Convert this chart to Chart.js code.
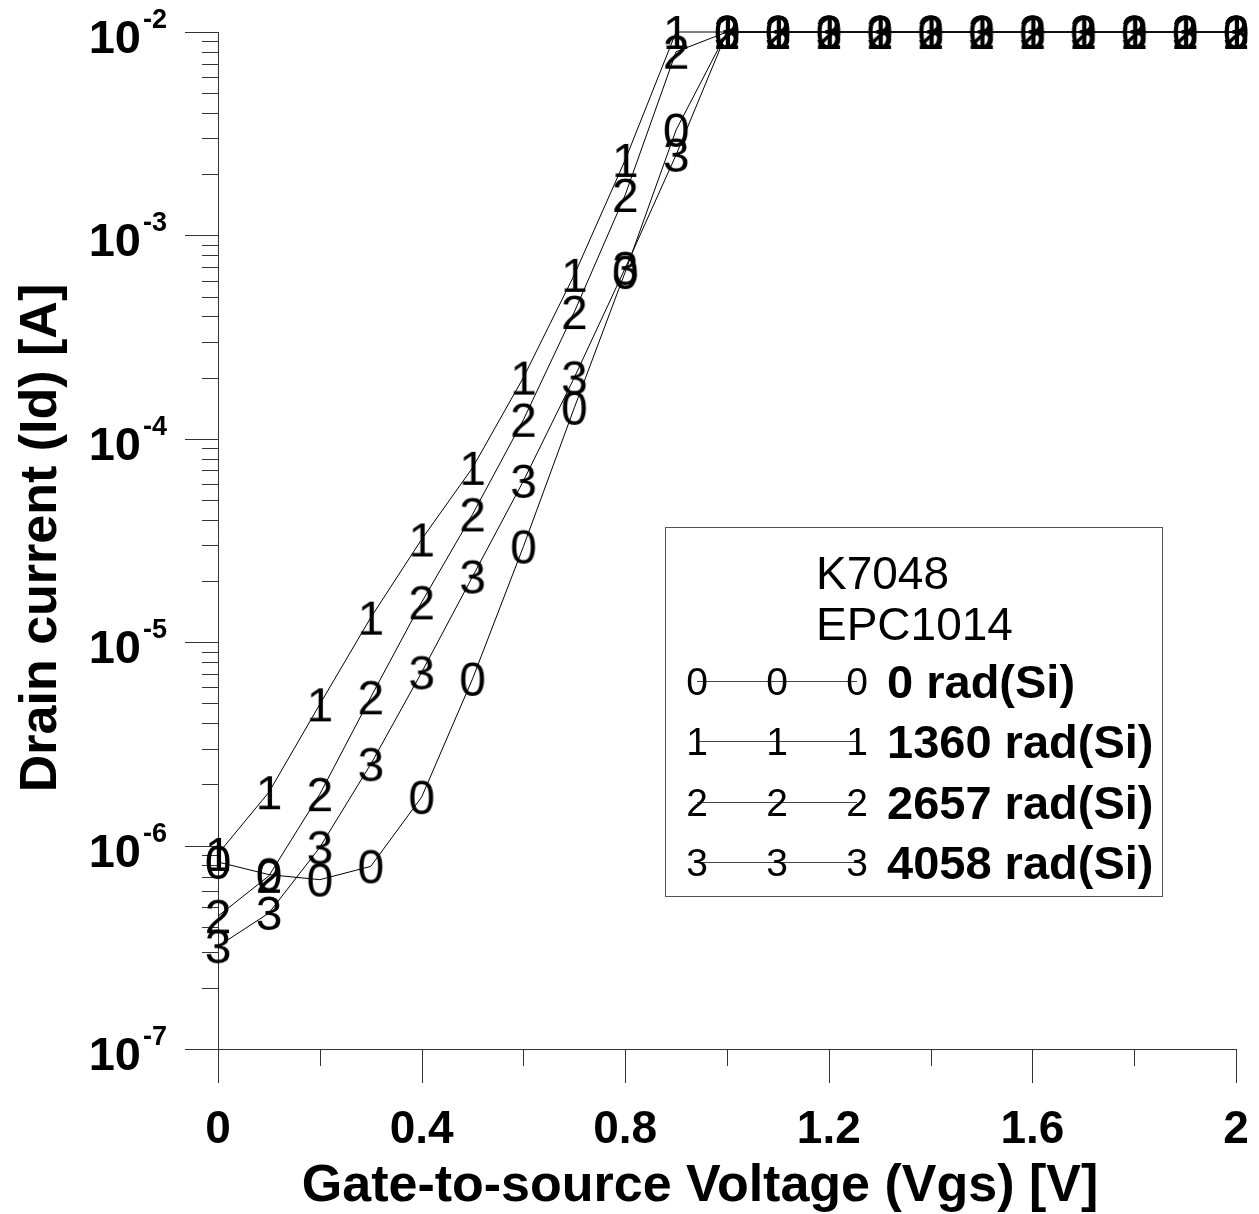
<!DOCTYPE html>
<html>
<head>
<meta charset="utf-8">
<script src="https://cdn.jsdelivr.net/npm/chart.js@4"></script>
<style>
  html, body { margin: 0; padding: 0; background: #fff; }
  canvas { display: block; }
</style>
</head>
<body>
<canvas id="chartIdVgs" width="1259" height="1214"></canvas>
<script>
// datos
const vgs = [0, 0.1, 0.2, 0.3, 0.4, 0.5, 0.6, 0.7, 0.8, 0.9, 1.0,
             1.1, 1.2, 1.3, 1.4, 1.5, 1.6, 1.7, 1.8, 1.9, 2.0];
const id0rad = [8.3e-7, 7.2e-7, 6.8e-7, 7.9e-7, 1.73e-6, 6.6e-6, 2.95e-5, 1.42e-4, 6.6e-4, 3.3e-3, 1e-2,
                1e-2, 1e-2, 1e-2, 1e-2, 1e-2, 1e-2, 1e-2, 1e-2, 1e-2, 1e-2];
const id1360rad = [9.1e-7, 1.83e-6, 4.95e-6, 1.32e-5, 3.2e-5, 7.2e-5, 2.0e-4, 6.4e-4, 2.35e-3, 1e-2, 1e-2,
                   1e-2, 1e-2, 1e-2, 1e-2, 1e-2, 1e-2, 1e-2, 1e-2, 1e-2, 1e-2];
const id2657rad = [4.5e-7, 7.1e-7, 1.79e-6, 5.36e-6, 1.57e-5, 4.25e-5, 1.24e-4, 4.2e-4, 1.58e-3, 8.0e-3, 1e-2,
                   1e-2, 1e-2, 1e-2, 1e-2, 1e-2, 1e-2, 1e-2, 1e-2, 1e-2, 1e-2];
const id4058rad = [3.2e-7, 4.66e-7, 9.8e-7, 2.51e-6, 7.1e-6, 2.1e-5, 6.2e-5, 2.0e-4, 6.9e-4, 2.49e-3, 1e-2,
                   1e-2, 1e-2, 1e-2, 1e-2, 1e-2, 1e-2, 1e-2, 1e-2, 1e-2, 1e-2];

const seriesLabels = ['0 rad(Si)', '1360 rad(Si)', '2657 rad(Si)', '4058 rad(Si)'];
const markerChars = ['0', '1', '2', '3'];
const legendTitle = ['K7048', 'EPC1014'];

const xMajorTicks = [0, 0.4, 0.8, 1.2, 1.6, 2];
const xMajorLabels = ['0', '0.4', '0.8', '1.2', '1.6', '2'];
const xMinorTicks = [0.2, 0.6, 1.0, 1.4, 1.8];
const yDecades = [-7, -6, -5, -4, -3, -2];

const xTitle = 'Gate-to-source Voltage (Vgs) [V]';
const yTitle = 'Drain current (Id) [A]';

const FONT = "'Liberation Sans', Arial, sans-serif";

// marcador: digito dibujado en un canvas
function digitMarker(ch, size) {
    const c = document.createElement('canvas');
    c.width = Math.round(size * 0.7);
    c.height = Math.round(size * 1.0);
    const g = c.getContext('2d');
    g.fillStyle = '#000';
    g.font = size + 'px ' + FONT;
    g.textAlign = 'center';
    g.textBaseline = 'alphabetic';
    g.fillText(ch, c.width / 2, c.height / 2 + size * 0.716 / 2);
    return c;
}

const seriesData = [id0rad, id1360rad, id2657rad, id4058rad];

const datasets = seriesData.map(function (vals, i) {
    return {
        label: seriesLabels[i],
        data: vgs.map(function (v, k) { return { x: v, y: vals[k] }; }),
        borderColor: '#000',
        borderWidth: 1,
        tension: 0,
        pointStyle: digitMarker(markerChars[i], 48),
        pointRadius: 10,
        clip: false
    };
});

const axesPlugin = {
    id: 'ejesManual',
    beforeDatasetsDraw(chart) {
        const ctx = chart.ctx;
        const xs = chart.scales.x, ys = chart.scales.y;
        const area = chart.chartArea;
        ctx.save();
        ctx.strokeStyle = '#333';
        ctx.lineWidth = 1;
        ctx.beginPath();
        // eje y
        ctx.moveTo(area.left + 0.5, area.top);
        ctx.lineTo(area.left + 0.5, area.bottom);
        // eje x
        ctx.moveTo(area.left, area.bottom + 0.5);
        ctx.lineTo(area.right, area.bottom + 0.5);
        // ticks x
        xMajorTicks.forEach(function (v) {
            const px = Math.round(xs.getPixelForValue(v)) + 0.5;
            ctx.moveTo(px, area.bottom);
            ctx.lineTo(px, area.bottom + 34);
        });
        xMinorTicks.forEach(function (v) {
            const px = Math.round(xs.getPixelForValue(v)) + 0.5;
            ctx.moveTo(px, area.bottom);
            ctx.lineTo(px, area.bottom + 17);
        });
        // ticks y
        yDecades.forEach(function (d) {
            const py = Math.round(ys.getPixelForValue(Math.pow(10, d))) + 0.5;
            ctx.moveTo(area.left - 33, py);
            ctx.lineTo(area.left, py);
            if (d < -2) {
                for (let m = 2; m <= 9; m++) {
                    const pm = Math.round(ys.getPixelForValue(m * Math.pow(10, d))) + 0.5;
                    ctx.moveTo(area.left - 16, pm);
                    ctx.lineTo(area.left, pm);
                }
            }
        });
        ctx.stroke();
        ctx.restore();
    },
    afterDraw(chart) {
        const ctx = chart.ctx;
        const xs = chart.scales.x, ys = chart.scales.y;
        const area = chart.chartArea;
        ctx.save();
        ctx.fillStyle = '#000';

        // etiquetas x
        ctx.font = 'bold 46px ' + FONT;
        ctx.textAlign = 'center';
        ctx.textBaseline = 'alphabetic';
        xMajorTicks.forEach(function (v, i) {
            ctx.fillText(xMajorLabels[i], xs.getPixelForValue(v), area.bottom + 94);
        });

        // etiquetas y con exponente
        yDecades.forEach(function (d) {
            const py = ys.getPixelForValue(Math.pow(10, d));
            ctx.font = 'bold 47px ' + FONT;
            ctx.textAlign = 'right';
            ctx.fillText('10', 141, py + 21);
            ctx.font = 'bold 27px ' + FONT;
            ctx.textAlign = 'left';
            ctx.fillText(String(d), 143, py - 4);
        });

        // titulos de ejes
        ctx.font = 'bold 52px ' + FONT;
        ctx.textAlign = 'center';
        ctx.fillText(xTitle, 700, 1201);
        ctx.save();
        ctx.translate(56, 538);
        ctx.rotate(-Math.PI / 2);
        ctx.fillText(yTitle, 0, 0);
        ctx.restore();

        // leyenda
        const bx = 665.5, by = 527.5, bw = 497, bh = 369;
        ctx.strokeStyle = '#555';
        ctx.lineWidth = 1;
        ctx.fillStyle = '#fff';
        ctx.fillRect(bx, by, bw, bh);
        ctx.strokeRect(bx, by, bw, bh);
        ctx.fillStyle = '#000';
        ctx.font = '46px ' + FONT;
        ctx.textAlign = 'left';
        ctx.fillText(legendTitle[0], 816, 589);
        ctx.fillText(legendTitle[1], 816, 640);

        const rowY = [681, 741, 802, 862];
        const markX = [697, 777, 857];
        seriesLabels.forEach(function (lab, i) {
            const y = rowY[i];
            ctx.strokeStyle = '#444';
            ctx.beginPath();
            ctx.moveTo(markX[0], y + 0.5);
            ctx.lineTo(markX[2], y + 0.5);
            ctx.stroke();
            ctx.font = '39px ' + FONT;
            ctx.textAlign = 'center';
            markX.forEach(function (mx) {
                ctx.fillText(markerChars[i], mx, y + 14);
            });
            ctx.font = 'bold 47px ' + FONT;
            ctx.textAlign = 'left';
            ctx.fillText(lab, 887, y + 17);
        });
        ctx.restore();
    }
};

try {
    new Chart(document.getElementById('chartIdVgs'), {
        type: 'line',
        data: { datasets: datasets },
        options: {
            responsive: false,
            animation: false,
            devicePixelRatio: 1,
            layout: { padding: { left: 218, right: 23, top: 32, bottom: 165 } },
            plugins: {
                legend: { display: false },
                tooltip: { enabled: false }
            },
            scales: {
                x: { type: 'linear', min: 0, max: 2, display: false },
                y: { type: 'logarithmic', min: 1e-7, max: 1e-2, display: false }
            }
        },
        plugins: [axesPlugin]
    });
} catch (error) {
    console.error('Error al crear la grafica:', error);
}
</script>
</body>
</html>
